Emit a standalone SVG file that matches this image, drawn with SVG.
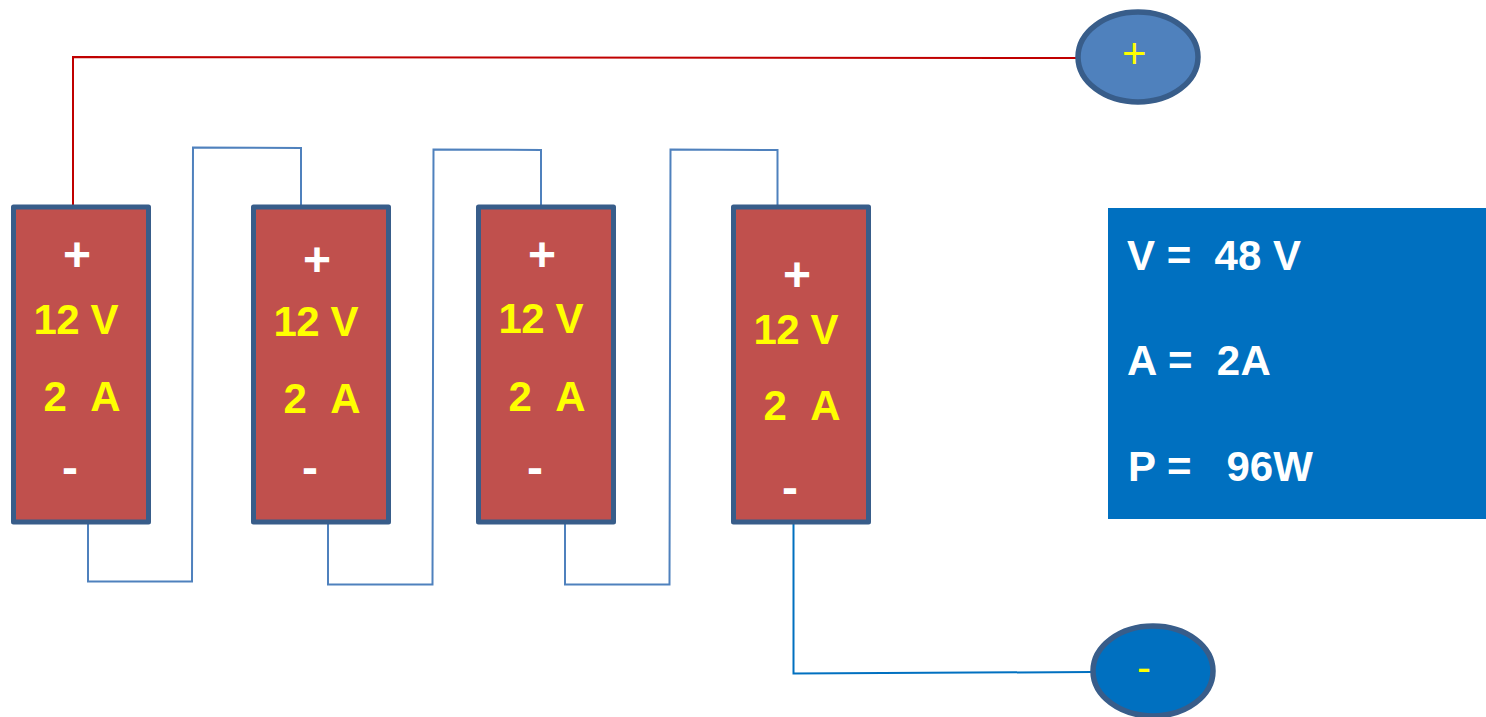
<svg xmlns="http://www.w3.org/2000/svg" width="1486" height="717" viewBox="0 0 1486 717">
<style>
text{font-family:"Liberation Sans",Arial,sans-serif;font-weight:bold;white-space:pre}
.b{fill:#C0504D;stroke:#385D8A;stroke-width:5;stroke-linejoin:round}
.y{fill:#FFFF00;font-size:42px;letter-spacing:-.5px}
.z{fill:#FFFF00;font-size:42px;letter-spacing:.5px}
.s{fill:#FFFFFF;font-size:48px}
.w{fill:#FFFFFF;font-size:42px}
.t{fill:#FFFF00;font-size:42px;font-weight:normal}
.c{fill:none;stroke:#4F81BD;stroke-width:2}
</style>
<rect width="1486" height="717" fill="#FFFFFF"/>
<g id="connectors">
<path d="M73 206V57L1078 58" fill="none" stroke="#C00000" stroke-width="2"/>
<path class="c" d="M88 524V581.500H192L193 147.500L301 148V206"/>
<path class="c" d="M328 524V584.500H432.500L433.500 149.500L541 150V206"/>
<path class="c" d="M565 524V584.500H669.500L670.500 149.500L777.500 150V206"/>
<path d="M793.500 524V673.500L1092 672" fill="none" stroke="#0070C0" stroke-width="2"/>
</g>
<g id="battery-1">
<rect class="b" x="13.500" y="207" width="135" height="315"/>
<text class="s" x="63" y="271">+</text>
<text class="y" x="33.500" y="334">12 V</text>
<text class="z" x="43.500" y="411">2  A</text>
<text class="s" x="62" y="484">-</text>
</g>
<g id="battery-2">
<rect class="b" x="253.500" y="207" width="135" height="315"/>
<text class="s" x="303" y="276">+</text>
<text class="y" x="273.500" y="336">12 V</text>
<text class="z" x="283.500" y="413">2  A</text>
<text class="s" x="302" y="484">-</text>
</g>
<g id="battery-3">
<rect class="b" x="478.500" y="207" width="135" height="315"/>
<text class="s" x="528" y="271">+</text>
<text class="y" x="498.500" y="333">12 V</text>
<text class="z" x="508.500" y="411">2  A</text>
<text class="s" x="527" y="484">-</text>
</g>
<g id="battery-4">
<rect class="b" x="733.500" y="207" width="135" height="315"/>
<text class="s" x="783" y="291">+</text>
<text class="y" x="753.500" y="344">12 V</text>
<text class="z" x="763.500" y="420">2  A</text>
<text class="s" x="782" y="504">-</text>
</g>
<g id="terminal-plus">
<ellipse cx="1138" cy="57" rx="60" ry="45" fill="#4F81BD" stroke="#385D8A" stroke-width="5.500"/>
<text class="t" x="1122" y="68">+</text>
</g>
<g id="terminal-minus">
<ellipse cx="1153" cy="671" rx="60" ry="45" fill="#0070C0" stroke="#385D8A" stroke-width="5.500"/>
<text class="t" x="1137" y="682">-</text>
</g>
<g id="summary">
<rect x="1108" y="208" width="378" height="311" fill="#0070C0"/>
<text class="w" x="1127" y="270">V =  48 V</text>
<text class="w" x="1127" y="375" letter-spacing=".3">A =  2A</text>
<text class="w" x="1128" y="481">P =   96W</text>
</g>
</svg>
